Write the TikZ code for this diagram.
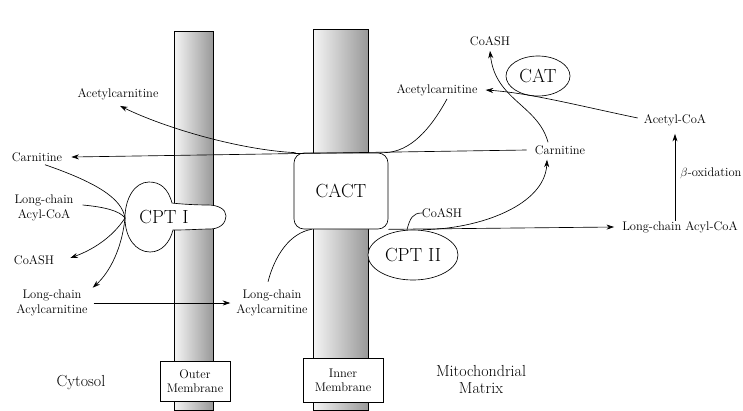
\documentclass[tikz,border=0pt]{standalone}
\usetikzlibrary{arrows.meta,calc,shapes.geometric}
\begin{document}
\begin{tikzpicture}[x=1pt,y=-1pt,
  lbl/.style={font=\fontsize{12.5}{15}\selectfont, inner sep=0pt, align=center},
  big/.style={font=\fontsize{19}{21}\selectfont},
  region/.style={font=\fontsize{16}{17}\selectfont, align=center},
  arr/.style={-{Stealth[length=7.5pt,width=5pt]}, line width=0.65pt},
  ln/.style={line width=0.65pt},
  mem/.style={left color=gray!8, middle color=gray!35, right color=gray!80, draw=black, line width=0.5pt},
  mbox/.style={draw, fill=white, line width=0.6pt, align=center, inner sep=0pt, font=\fontsize{12.5}{14}\selectfont}
]
\useasboundingbox (0,0) rectangle (743,410);

% membranes
\shadedraw[mem] (174,31) rectangle (213,410);
\shadedraw[mem] (313,29) rectangle (368,410);

% CACT transporter
\node[draw, fill=white, rounded corners=10pt, minimum width=94pt, minimum height=76pt, big, line width=0.65pt] (cact) at (341,191) {CACT};

% CPT I
\draw[ln, fill=white] (172,203) .. controls (168,188) and (160,182) .. (149,182)
  .. controls (135,182) and (125,198) .. (125,218)
  .. controls (125,238) and (136,252) .. (150,252)
  .. controls (162,252) and (170,242) .. (173,230)
  .. controls (190,230) and (200,229) .. (210,229)
  .. controls (220,229) and (226,223) .. (226,216)
  .. controls (226,209) and (218,205) .. (208,205)
  .. controls (195,205) and (180,204) .. (172,203) -- cycle;
\node[big] (cpt1) at (164,217) {CPT I};
\coordinate (J) at (125,218);

% CPT II and CAT
\node[draw, ellipse, fill=white, line width=0.65pt, minimum width=90pt, minimum height=50pt, inner sep=0pt, big] (cpt2) at (413,255) {CPT II};
\node[draw, ellipse, line width=0.65pt, minimum width=64pt, minimum height=40pt, inner sep=0pt, big] (cat) at (538,76) {CAT};

% labels
\node[lbl] (acl) at (118,94) {Acetylcarnitine};
\node[lbl] (carL) at (37,157) {Carnitine};
\node[lbl] (lcaL) at (44,208) {Long-chain\\Acyl-CoA};
\node[lbl] (coashL) at (34,260) {CoASH};
\node[lbl] (lcacL) at (52,303) {Long-chain\\Acylcarnitine};
\node[lbl] (lcacM) at (272,303) {Long-chain\\Acylcarnitine};
\node[lbl] (acR) at (437,90) {Acetylcarnitine};
\node[lbl] (coashT) at (490,41) {CoASH};
\node[lbl] (carR) at (560,150) {Carnitine};
\node[lbl] (acoa) at (675,120) {Acetyl-CoA};
\node[lbl] (boxid) at (711,173) {$\beta$-oxidation};
\node[lbl] (lcaR) at (680,227) {Long-chain Acyl-CoA};
\node[lbl] (coashM) at (442,213) {CoASH};

\node[region] (cyto) at (81,383) {Cytosol};
\node[region] (matrix) at (481,380) {Mitochondrial\\Matrix};

\node[mbox, minimum width=70pt, minimum height=40pt] (outer) at (195,381) {Outer\\Membrane};
\node[mbox, minimum width=80pt, minimum height=44pt] (inner) at (343,380) {Inner\\Membrane};

% connectors: cytosol side
\draw[arr] ([xshift=2pt]cact.north west) .. controls (240,150) and (165,128) .. ([xshift=2pt,yshift=-6pt]acl.south);
\draw[arr] ([xshift=-8pt]carR.west) -- ([xshift=9pt]carL.east);
\draw[ln] ([xshift=8pt,yshift=-3pt]carL.south) .. controls (95,182) and (122,198) .. (J);
\draw[ln] ([xshift=9pt,yshift=3pt]lcaL.east) .. controls (105,207) and (120,211) .. (J);
\draw[arr] (J) .. controls (112,238) and (92,250) .. ([xshift=16pt,yshift=2pt]coashL.east);
\draw[arr] (J) .. controls (122,248) and (110,272) .. ([xshift=5pt,yshift=2pt]lcacL.north east);
\draw[arr] ([xshift=6pt]lcacL.east) -- ([xshift=-6pt]lcacM.west);
\draw[ln] ([xshift=-4pt,yshift=8pt]lcacM.north) .. controls (275,255) and (290,233) .. ([xshift=18pt]cact.south west);

% connectors: matrix side
\draw[ln] ([xshift=10pt,yshift=-3pt]acR.south) .. controls (430,130) and (410,152) .. ([xshift=-4pt]cact.north east);
\draw[arr] (cact.south east) -- ([xshift=-8pt]lcaR.west);
\draw[arr] ([xshift=10pt]cpt2.north) .. controls (480,229) and (545,205) .. ([xshift=-13pt,yshift=-5pt]carR.south);
\draw[ln] ([xshift=-6pt]cpt2.north) .. controls (410,218) and (413,213) .. (coashM.west);
\draw[arr] ([xshift=-12pt,yshift=3pt]carR.north) .. controls (538,105) and (495,100) .. ([yshift=-5pt]coashT.south);
\draw[arr] ([xshift=-6pt,yshift=2pt]acoa.west) .. controls (580,106) and (530,93) .. ([xshift=8pt]acR.east);
\draw[arr] (lcaR.north -| acoa.south) -- ([yshift=-8pt]acoa.south);
\end{tikzpicture}
\end{document}
